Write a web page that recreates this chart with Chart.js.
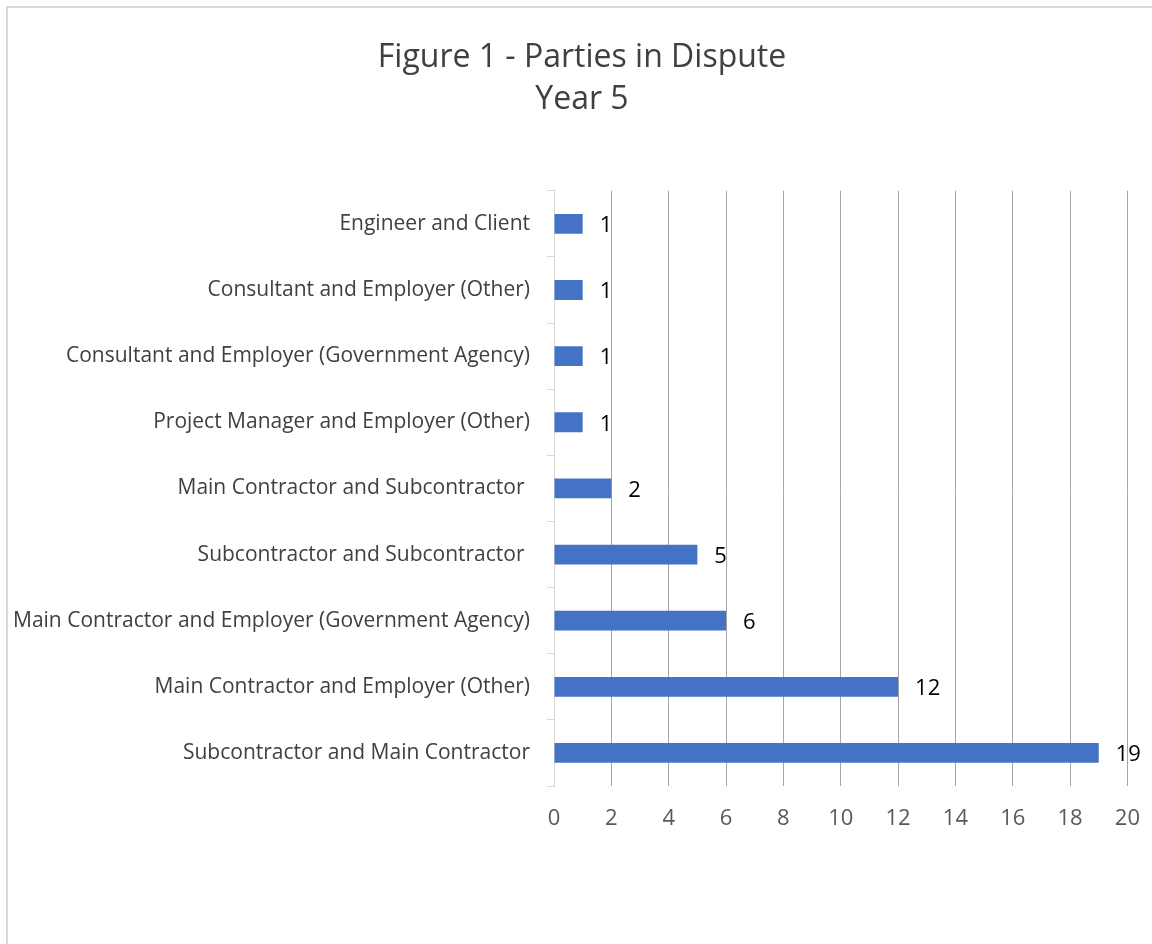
<!DOCTYPE html>
<html>
<head>
<meta charset="utf-8">
<script src="https://cdn.jsdelivr.net/npm/chart.js@4.4.0/dist/chart.umd.min.js"></script>
<style>
    html, body { margin: 0; padding: 0; background: #fff; }
    #wrap { position: relative; width: 1152px; height: 944px; overflow: hidden; }
    #frame { position: absolute; left: 6px; top: 6px; width: 1200px; height: 1000px; border: 2px solid #d9d9d9; box-sizing: border-box; }
    canvas { position: absolute; left: 0; top: 0; }
</style>
</head>
<body>
<div id="wrap">
    <div id="frame"></div>
    <canvas id="grafico" width="1152" height="944"></canvas>
</div>
<script>
    // categories top to bottom, as in the picture
    const categories = [
        'Engineer and Client',
        'Consultant and Employer (Other)',
        'Consultant and Employer (Government Agency)',
        'Project Manager and Employer (Other)',
        'Main Contractor and Subcontractor ',
        'Subcontractor and Subcontractor ',
        'Main Contractor and Employer (Government Agency)',
        'Main Contractor and Employer (Other)',
        'Subcontractor and Main Contractor'
    ];
    const disputes = [1, 1, 1, 1, 2, 5, 6, 12, 19];
    const titleLines = ['Figure 1 - Parties in Dispute', 'Year 5'];

    const FONT = "'Open Sans', Lato, sans-serif";

    // draws the value next to the end of each bar
    const valueLabels = {
        id: 'valueLabels',
        afterDatasetsDraw(chart) {
            const ctx = chart.ctx;
            const meta = chart.getDatasetMeta(0);
            ctx.save();
            ctx.font = '22px ' + FONT;
            ctx.fillStyle = '#000';
            ctx.textAlign = 'left';
            ctx.textBaseline = 'middle';
            meta.data.forEach(function (bar, i) {
                ctx.fillText(String(disputes[i]), bar.x + 17, bar.y + 2);
            });
            ctx.restore();
        }
    };

    // title in the picture is centred a bit right of the canvas middle
    const titleShift = {
        id: 'titleShift',
        afterLayout(chart) {
            if (chart.titleBlock) chart.titleBlock.left = 26;
        }
    };

    document.addEventListener('DOMContentLoaded', function () {
        const ctx = document.getElementById('grafico').getContext('2d');
        new Chart(ctx, {
            type: 'bar',
            data: {
                labels: categories,
                datasets: [{
                    label: 'Parties in Dispute',
                    data: disputes,
                    backgroundColor: '#4472c4',
                    borderWidth: 0,
                    categoryPercentage: 1,
                    barPercentage: 0.3
                }]
            },
            options: {
                indexAxis: 'y',
                responsive: false,
                animation: false,
                layout: { padding: { left: 0, right: 14, top: 0, bottom: 98 } },
                scales: {
                    x: {
                        min: 0,
                        max: 20,
                        ticks: { stepSize: 2, color: '#595959', font: { family: FONT, size: 22 }, padding: 12 },
                        grid: {
                            color: function (c) { return c.tick && c.tick.value === 0 ? 'rgba(0,0,0,0)' : '#a6a6a6'; },
                            drawTicks: true,
                            tickLength: 8,
                            tickColor: 'rgba(0,0,0,0)',
                            lineWidth: 1
                        },
                        border: { display: false },
                        afterFit: function (scale) { scale.height = 60; }
                    },
                    y: {
                        ticks: { color: '#404040', font: { family: FONT, size: 21 }, padding: 17 },
                        grid: { drawOnChartArea: false, color: '#d9d9d9', tickLength: 7, offset: true },
                        border: { display: true, color: '#d9d9d9' },
                        afterFit: function (scale) { scale.width = 554; }
                    }
                },
                plugins: {
                    legend: { display: false },
                    tooltip: { enabled: false },
                    title: {
                        display: true,
                        text: titleLines,
                        color: '#404040',
                        font: { family: FONT, size: 32, weight: 'normal', lineHeight: 1.31 },
                        padding: { top: 37, bottom: 70 }
                    }
                }
            },
            plugins: [valueLabels, titleShift]
        });
    });
</script>
</body>
</html>
